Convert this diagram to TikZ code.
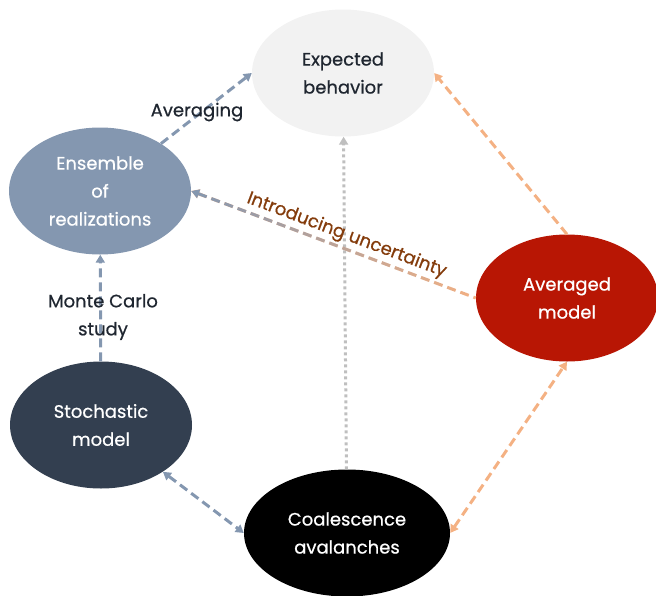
\documentclass[tikz,border=0pt]{standalone}
\usepackage{fontspec}
\setmainfont{Poppins}[FakeBold=0.6]
\usetikzlibrary{arrows.meta,shapes.geometric,fadings}

\definecolor{slate}{HTML}{8497B0}
\definecolor{navy}{HTML}{333F50}
\definecolor{mist}{HTML}{F2F2F2}
\definecolor{brick}{HTML}{B81604}
\definecolor{peach}{HTML}{F4B183}
\definecolor{ash}{HTML}{BFBFBF}
\definecolor{rust}{HTML}{843C0C}
\definecolor{ink}{HTML}{1F2630}

\begin{document}
\begin{tikzpicture}[
  x = 1pt, y = -1pt,
  >={Triangle[length=8pt, width=9pt]},
  % the five models, all the same ellipse
  blob/.style  = {ellipse, minimum width=182pt, minimum height=127pt,
                  inner sep=0pt, align=center, text=white,
                  font=\fontsize{18}{28}\selectfont},
  note/.style  = {align=center, text=ink, font=\fontsize{18}{28}\selectfont},
  link/.style  = {line width=3pt, dash pattern=on 9pt off 5pt},
  dots/.style  = {line width=3pt, dash pattern=on 3pt off 3pt},
]
\useasboundingbox (0, 0) rectangle (656, 595);

% --- nodes
\node[blob, fill=mist, text=ink] (expected) at (343, 73) {Expected\\behavior};
\node[blob, fill=slate] (ensemble) at (100, 191) {Ensemble\\of\\realizations};
\node[blob, fill=brick] (averaged) at (567, 298) {Averaged\\model};
\node[blob, fill=navy] (stochastic) at (101, 425) {Stochastic\\model};
\node[blob, fill=black, minimum width=206pt] (coalescence) at (347, 533)
  {Coalescence\\avalanches};

% --- connectors
\draw[dots, ash, ->] (coalescence) -- (expected);
\draw[link, slate, ->] (ensemble) -- (expected.west);
\draw[link, slate, ->] (stochastic) -- (ensemble);
\draw[link, slate, <->] (stochastic) -- (coalescence.west);
\draw[link, peach, ->] (averaged.north) -- (expected.east);
\draw[link, peach, <->] (coalescence.east) -- (averaged.south);

% orange at the averaged model, blending into slate at the ensemble
\draw[link, peach, <-] (ensemble.east) -- (averaged.west);
\draw[link, slate, <-, path fading=east] (ensemble.east) -- (averaged.west);

% --- labels
\node[note] (averaging) at (197, 112) {Averaging};
\node[note] (montecarlo) at (103, 317) {Monte Carlo\\study};
\path (ensemble.east) -- node[note, text=rust, sloped, pos=0.53, yshift=13pt]
  (uncertainty) {Introducing uncertainty} (averaged.west);

\end{tikzpicture}
\end{document}
